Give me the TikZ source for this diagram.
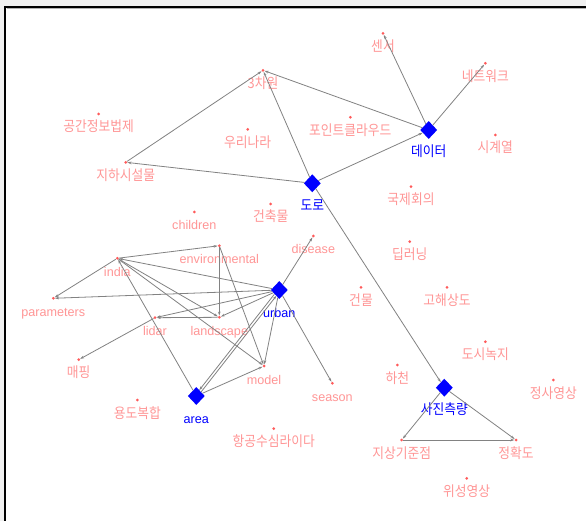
\documentclass[tikz,border=0pt]{standalone}
\usepackage{fontspec}
\setmainfont{Liberation Sans}
\newfontfamily\krfont[FakeStretch=0.9]{Noto Sans CJK KR}
\usetikzlibrary{shapes.geometric,arrows.meta}
\newcommand\ko{\krfont\fontsize{14.2pt}{14pt}\selectfont}
\definecolor{labpink}{RGB}{255,150,150}
\definecolor{dotred}{RGB}{255,90,90}
\definecolor{edgegray}{RGB}{130,130,130}
\definecolor{bgray}{RGB}{240,240,240}
\definecolor{nodeblue}{RGB}{0,0,255}
\newcommand\mkpt[4]{\node[pt] (#1) at (#2,#3) {}; \node[plab] (#1-l) at (#2,#3+18) {#4};}
\newcommand\mkdia[4]{\node[dia] (#1) at (#2,#3) {}; \node[dlab] (#1-l) at (#2,#3+27) {#4};}
\begin{document}
\begin{tikzpicture}[x=1pt,y=-1pt,
  pt/.style={circle,fill=dotred,draw=none,inner sep=0pt,minimum size=3pt},
  dia/.style={diamond,fill=nodeblue,draw=none,inner sep=0pt,minimum width=17pt,minimum height=18pt},
  plab/.style={anchor=base,inner sep=0pt,text=labpink,font=\fontsize{12.6pt}{13pt}\selectfont},
  dlab/.style={anchor=base,inner sep=0pt,text=nodeblue,font=\fontsize{12.6pt}{13pt}\selectfont},
  edge/.style={draw=edgegray,line width=0.8pt,-{Stealth[length=4pt,width=2.6pt]}}]
\useasboundingbox (0,0) rectangle (586,521);
\fill[white] (0,0) rectangle (586,521);
\fill[bgray] (0,0) rectangle (586,6);
\fill[bgray] (0,0) rectangle (4.3,521);
\draw[black,line width=1.7pt] (5.2,521) -- (5.2,6.8) -- (586,6.8);
\draw[gray!60,line width=0.6pt] (6.5,8.2) -- (586,8.2);
% point nodes
\mkpt{d3}{263}{70.3}{\ko 3차원}
\mkpt{sensor}{383}{33.3}{\ko 센서}
\mkpt{network}{485.3}{63.3}{\ko 네트워크}
\mkpt{pointcloud}{350.3}{117.3}{\ko 포인트클라우드}
\mkpt{timeseries}{495.3}{135}{\ko 시계열}
\mkpt{law}{98.7}{114}{\ko 공간정보법제}
\mkpt{korea}{247.7}{129.3}{\ko 우리나라}
\mkpt{underground}{125.7}{162.3}{\ko 지하시설물}
\mkpt{conference}{411}{186.7}{\ko 국제회의}
\mkpt{architecture}{270.7}{204}{\ko 건축물}
\mkpt{children}{194.3}{212}{children}
\mkpt{disease}{313.3}{236}{disease}
\mkpt{environmental}{219.3}{245.7}{environmental}
\mkpt{india}{117.3}{258.3}{india}
\mkpt{deeplearning}{409.7}{241.7}{\ko 딥러닝}
\mkpt{parameters}{53.3}{298.3}{parameters}
\mkpt{building}{361}{287.3}{\ko 건물}
\mkpt{highres}{447}{287.3}{\ko 고해상도}
\mkpt{lidar}{155}{317.7}{lidar}
\mkpt{landscape}{219.3}{317.3}{landscape}
\mkpt{mapping}{78.7}{359.7}{\ko 매핑}
\mkpt{greenspace}{485.3}{341.7}{\ko 도시녹지}
\mkpt{model}{264}{366}{model}
\mkpt{river}{397.3}{365}{\ko 하천}
\mkpt{ortho}{553.3}{380}{\ko 정사영상}
\mkpt{season}{332.3}{383.3}{season}
\mkpt{mixeduse}{137.3}{400}{\ko 용도복합}
\mkpt{bathylidar}{273.7}{428.7}{\ko 항공수심라이다}
\mkpt{gcp}{401.7}{440}{\ko 지상기준점}
\mkpt{accuracy}{516}{440}{\ko 정확도}
\mkpt{satellite}{466.7}{478.3}{\ko 위성영상}
% diamond nodes
\mkdia{data}{428.7}{130}{\ko 데이터}
\mkdia{road}{312.3}{183.3}{\ko 도로}
\mkdia{urban}{279.3}{290}{urban}
\mkdia{area}{196.3}{396}{area}
\mkdia{photo}{444.3}{387.7}{\ko 사진측량}
% edges
\draw[edge] (underground) -- (d3);
\draw[edge] (road) -- (underground);
\draw[edge] (data) -- (d3);
\draw[edge] (road) -- (d3);
\draw[edge] (data) -- (sensor);
\draw[edge] (data) -- (network);
\draw[edge] (road) -- (data);
\draw[edge] (road) -- (photo);
\draw[edge] (photo) -- (gcp);
\draw[edge] (photo) -- (accuracy);
\draw[edge] (gcp) -- (accuracy);
\draw[edge] (urban) -- (disease);
\draw[edge] (urban) -- (season);
\draw[edge] (urban) -- (india);
\draw[edge] (urban) -- (parameters);
\draw[edge] (urban) -- (lidar);
\draw[edge] (urban) -- (landscape);
\draw[edge,transform canvas={shift={(1pt,-0.8pt)}}] (area) -- (urban);
\draw[edge,transform canvas={shift={(-1pt,0.8pt)}}] (urban) -- (area);
\draw[edge] (urban) -- (model);
\draw[edge] (india) -- (environmental);
\draw[edge] (india) -- (parameters);
\draw[edge] (india) -- (landscape);
\draw[edge] (area) -- (india);
\draw[edge] (india) -- (model);
\draw[edge] (environmental) -- (landscape);
\draw[edge] (environmental) -- (model);
\draw[edge] (landscape) -- (lidar);
\draw[edge] (lidar) -- (mapping);
\draw[edge] (area) -- (model);
\end{tikzpicture}
\end{document}
